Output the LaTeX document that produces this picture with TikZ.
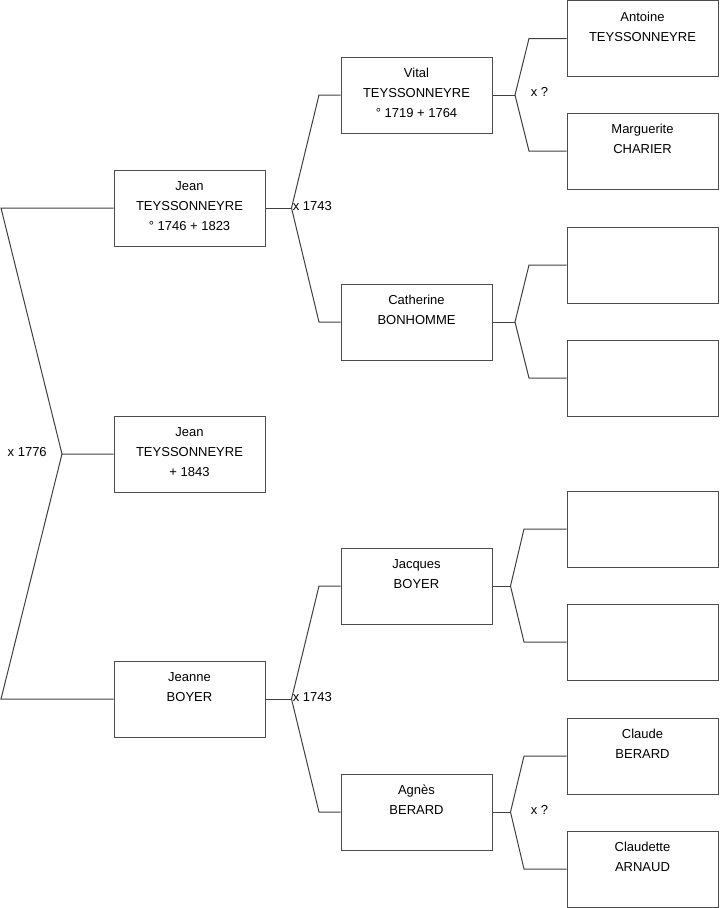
\documentclass[tikz,border=0pt]{standalone}
\usepackage{fontspec}
\setmainfont{Liberation Sans}
\usetikzlibrary{positioning}
\tikzset{
  pbox/.style ={rectangle, draw=black!70, fill=white, line width=0.75pt,
                minimum width=113.25pt, minimum height=57pt, inner sep=0pt,
                align=center, font=\fontsize{9.75pt}{15pt}\selectfont},
  link/.style ={draw=black!75, line width=0.75pt},
  wed/.style  ={font=\fontsize{9.75pt}{12pt}\selectfont, inner sep=0pt},
}
\newcommand{\who}[1]{\parbox[c][47pt][t]{110pt}{\centering\strut #1}}

\begin{document}
\begin{tikzpicture}[x=0.75pt, y=-0.75pt]
  \useasboundingbox (0,0) rectangle (719,908);
  % generation 1
  \node[pbox] (f) at (189.5,208) {\who{Jean\\TEYSSONNEYRE\\° 1746 + 1823}};
  \node[pbox] (c) at (189.5,454) {\who{Jean\\TEYSSONNEYRE\\+ 1843}};
  \node[pbox] (m) at (189.5,699) {\who{Jeanne\\BOYER}};
  % generation 2
  \node[pbox] (ff) at (416.5,95)  {\who{Vital\\TEYSSONNEYRE\\° 1719 + 1764}};
  \node[pbox] (fm) at (416.5,322) {\who{Catherine\\BONHOMME}};
  \node[pbox] (mf) at (416.5,586) {\who{Jacques\\BOYER}};
  \node[pbox] (mm) at (416.5,812) {\who{Agnès\\BERARD}};
  % generation 3
  \node[pbox] (fff) at (642.5,38.5) {\who{Antoine\\TEYSSONNEYRE}};
  \node[pbox] (ffm) at (642.5,151)  {\who{Marguerite\\CHARIER}};
  \node[pbox] (fmf) at (642.5,265)  {\who{}};
  \node[pbox] (fmm) at (642.5,378)  {\who{}};
  \node[pbox] (mff) at (642.5,529)  {\who{}};
  \node[pbox] (mfm) at (642.5,642)  {\who{}};
  \node[pbox] (mmf) at (642.5,756)  {\who{Claude\\BERARD}};
  \node[pbox] (mmm) at (642.5,869)  {\who{Claudette\\ARNAUD}};

  % forks
  \coordinate (c0)  at (62,454);
  \coordinate (c0t) at (1,208);
  \coordinate (c0b) at (1,699);
  \draw[link] (f.west) -- (c0t) -- (c0) -- (c.west);
  \draw[link] (c0) -- (c0b) -- (m.west);
  \node[wed, anchor=east] (w0) at (47,452) {x 1776};

  \coordinate (jf)  at (291.5,208);
  \coordinate (jfa) at (319,95);
  \coordinate (jfb) at (319,322);
  \draw[link] (f.east) -- (jf);
  \draw[link] (ff.west) -- (jfa) -- (jf) -- (jfb) -- (fm.west);
  \node[wed, anchor=west] (wf) at (292.5,206) {x 1743};

  \coordinate (jm)  at (291.5,699);
  \coordinate (jma) at (319,586);
  \coordinate (jmb) at (319,812);
  \draw[link] (m.east) -- (jm);
  \draw[link] (mf.west) -- (jma) -- (jm) -- (jmb) -- (mm.west);
  \node[wed, anchor=west] (wm) at (292.5,697) {x 1743};

  \coordinate (jff)  at (515,95);
  \coordinate (jffa) at (529,38.5);
  \coordinate (jffb) at (529,151);
  \draw[link] (ff.east) -- (jff);
  \draw[link] (fff.west) -- (jffa) -- (jff) -- (jffb) -- (ffm.west);
  \node[wed, anchor=west] (wff) at (530.5,92) {x ?};

  \coordinate (jfm)  at (515,322);
  \coordinate (jfma) at (529,265);
  \coordinate (jfmb) at (529,378);
  \draw[link] (fm.east) -- (jfm);
  \draw[link] (fmf.west) -- (jfma) -- (jfm) -- (jfmb) -- (fmm.west);

  \coordinate (jmf)  at (510.5,586);
  \coordinate (jmfa) at (524,529);
  \coordinate (jmfb) at (524,642);
  \draw[link] (mf.east) -- (jmf);
  \draw[link] (mff.west) -- (jmfa) -- (jmf) -- (jmfb) -- (mfm.west);

  \coordinate (jmm)  at (510.5,812);
  \coordinate (jmma) at (524,756);
  \coordinate (jmmb) at (524,869);
  \draw[link] (mm.east) -- (jmm);
  \draw[link] (mmf.west) -- (jmma) -- (jmm) -- (jmmb) -- (mmm.west);
  \node[wed, anchor=west] (wmm) at (530.5,810) {x ?};
\end{tikzpicture}
\end{document}
